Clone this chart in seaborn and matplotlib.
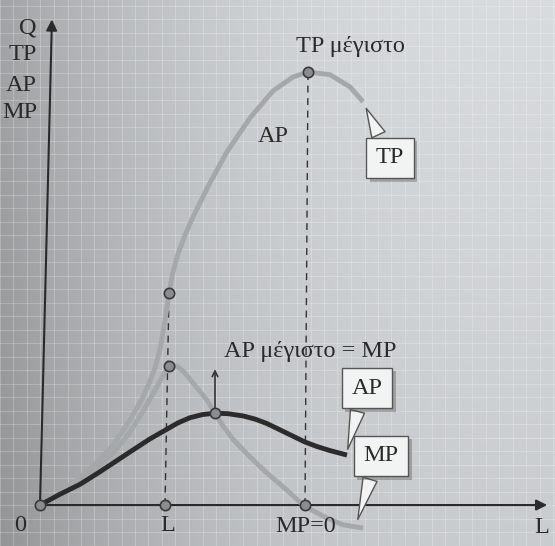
import seaborn as sns
import matplotlib.pyplot as plt
import matplotlib.patheffects as pe
import pandas as pd
import numpy as np

sns.set_style("white")
plt.rcParams['font.family'] = ['Liberation Serif', 'DejaVu Serif']

# Curves (x = labour L, y = product Q)
tp_x = [0, 0.40, 0.80, 1.20, 1.46, 1.80, 2.06, 2.20, 2.30, 2.40, 2.50, 2.58, 2.66, 2.76, 2.90,
        3.06, 3.40, 3.74, 4.20, 4.66, 5.06, 5.36, 5.80, 6.20, 6.46]
tp_y = [0, 0.27, 0.60, 1.02, 1.33, 1.89, 2.40, 2.75, 3.05, 3.45, 4.10, 4.71, 5.18, 5.58, 6.00,
        6.40, 7.16, 7.85, 8.60, 9.20, 9.51, 9.62, 9.56, 9.29, 8.96]

mp_x = [0, 0.40, 0.86, 1.20, 1.50, 1.80, 2.06, 2.30, 2.46, 2.56, 2.64, 2.74, 2.88, 3.06, 3.34,
        3.50, 3.66, 3.86, 4.20, 4.54, 4.94, 5.28, 5.74, 6.06, 6.46]
mp_y = [0, 0.24, 0.56, 0.88, 1.20, 1.62, 2.08, 2.55, 2.88, 3.06, 3.11, 3.08, 2.96, 2.71, 2.33,
        2.04, 1.76, 1.46, 1.07, 0.71, 0.33, -0.02, -0.29, -0.44, -0.51]

ap_x = [0, 0.4, 0.8, 1.2, 1.8, 2.2, 2.5, 2.75, 3.0, 3.25, 3.5, 3.75, 4.06, 4.3, 4.54,
        4.8, 5.06, 5.3, 5.54, 5.8, 6.14]
ap_y = [0, 0.24, 0.46, 0.74, 1.18, 1.47, 1.66, 1.82, 1.94, 2.01, 2.04, 2.03, 1.98, 1.91, 1.81,
        1.67, 1.53, 1.40, 1.30, 1.21, 1.11]

# marked points
pt_x = [0, 2.50, 5.30, 2.58, 2.58, 3.50, 5.36]
pt_y = [0, 0, 0, 4.71, 3.09, 2.04, 9.62]

fig = plt.figure(figsize=(5.55, 5.46), dpi=100)
ax = fig.add_axes([0, 0, 1, 1])
xlim = (-0.8, 10.3)
ylim = (-0.91, 11.22)

# photo-like background (darker on the left and low down)
gx = np.linspace(0, 1, 200)[None, :]
gy = np.linspace(0, 1, 200)[:, None]
shade = 0.87 - 0.22 * (1 - gx) ** 2.5 - 0.06 * gy
bg = np.stack([shade * 0.975, shade * 0.99, shade * 1.0], axis=-1)
ax.imshow(np.clip(bg, 0, 1), extent=[xlim[0], xlim[1], ylim[0], ylim[1]], aspect='auto', zorder=0)
ax.set_xticks(np.arange(-0.8, 10.3, 0.27), minor=True)
ax.set_yticks(np.arange(-0.91, 11.22, 0.3), minor=True)
ax.grid(which='minor', color='white', alpha=0.22, lw=0.8)
ax.tick_params(which='both', length=0, labelbottom=False, labelleft=False)
ax.set_xticks([]); ax.set_yticks([])
for s in ax.spines.values():
    s.set_visible(False)

# axes
ax.annotate('', xy=(10.2, 0), xytext=(0, 0),
            arrowprops=dict(arrowstyle='-|>', color='#2a2a2a', lw=1.5, mutation_scale=16), zorder=3)
ax.annotate('', xy=(0.24, 10.85), xytext=(0, 0),
            arrowprops=dict(arrowstyle='-|>', color='#2a2a2a', lw=1.5, mutation_scale=16), zorder=3)

# dashed guides
ax.plot([2.50, 2.58], [0, 4.71], ls=(0, (5, 4)), color='#333', lw=1, zorder=2)
ax.plot([5.30, 5.36], [0, 9.62], ls=(0, (5, 4)), color='#333', lw=1, zorder=2)

tp = pd.DataFrame({'L': tp_x, 'Q': tp_y})
mp = pd.DataFrame({'L': mp_x, 'Q': mp_y})
ap = pd.DataFrame({'L': ap_x, 'Q': ap_y})
line_kw = dict(sort=False, lw=3.5, ax=ax, solid_joinstyle='round', solid_capstyle='butt')
sns.lineplot(data=tp, x='L', y='Q', color='#a4a8aa', zorder=4, **line_kw)
sns.lineplot(data=mp, x='L', y='Q', color='#a4a8aa', zorder=4, **line_kw)
sns.lineplot(data=ap, x='L', y='Q', color='#2b2b2b', zorder=5, **line_kw)
sns.scatterplot(x=pt_x, y=pt_y, s=55, color='#8a8c8e', edgecolor='#3a3a3a', linewidth=1.2, ax=ax, zorder=6)

ax.set_xlim(*xlim)
ax.set_ylim(*ylim)
ax.set_xlabel(''); ax.set_ylabel('')

# AP max arrow
ax.annotate('', xy=(3.50, 3.08), xytext=(3.50, 2.04),
            arrowprops=dict(arrowstyle='->', color='#333', lw=1.2), zorder=5)

tc = '#2a2a2a'
fs = 17.5
ax.text(-0.06, 10.6, 'Q', fontsize=fs, color=tc, ha='right', va='center')
ax.text(-0.06, 10.0, 'TP', fontsize=fs, color=tc, ha='right', va='center')
ax.text(-0.06, 9.33, 'AP', fontsize=fs, color=tc, ha='right', va='center')
ax.text(-0.06, 8.71, 'MP', fontsize=fs, color=tc, ha='right', va='center')
ax.text(-0.4, -0.46, '0', fontsize=fs, color=tc, ha='center', va='center')
ax.text(2.56, -0.46, 'L', fontsize=fs, color=tc, ha='center', va='center')
ax.text(5.32, -0.48, 'MP=0', fontsize=fs, color=tc, ha='center', va='center', zorder=5)
ax.text(10.04, -0.49, 'L', fontsize=fs, color=tc, ha='center', va='center')
ax.text(6.2, 10.18, 'TP μέγιστο', fontsize=fs, color=tc, ha='center', va='center')
ax.text(4.66, 8.18, 'AP', fontsize=fs, color=tc, ha='center', va='center')
ax.text(5.4, 3.4, 'AP μέγιστο = MP', fontsize=fs, color=tc, ha='center', va='center')

box = dict(boxstyle='square,pad=0.4', fc='#f2f3f3', ec='#555', lw=1)
wedge = dict(arrowstyle='wedge,tail_width=0.6,shrink_factor=0.5', fc='#f2f3f3', ec='#555', lw=1)
callouts = [('TP', (6.5, 8.87), (7.0, 7.71), (0.3, 1.0)),
            ('AP', (6.14, 1.18), (6.54, 2.6), (0.3, 0.0)),
            ('MP', (6.34, -0.38), (6.82, 1.09), (0.3, 0.0))]
for txt, tip, pos, rel in callouts:
    a = ax.annotate(txt, xy=tip, xytext=pos, fontsize=fs, color=tc, ha='center', va='center',
                    bbox=box, arrowprops=dict(wedge, relpos=rel), zorder=7)
    a.get_bbox_patch().set_path_effects([pe.SimplePatchShadow(offset=(2.5, -2.5), alpha=0.35),
                                         pe.Normal()])

plt.savefig("out.png", dpi=100)
plt.close()
